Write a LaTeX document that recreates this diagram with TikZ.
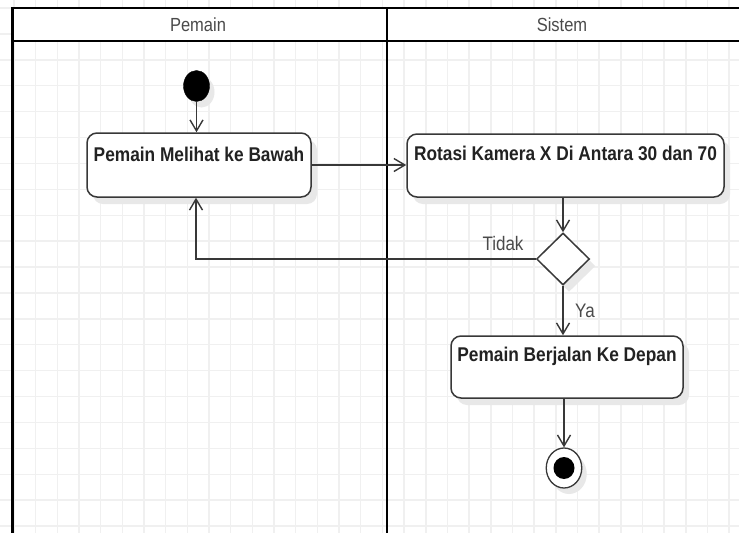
\documentclass[tikz,border=0pt]{standalone}
\usepackage{fontspec}
\setmainfont{Liberation Sans}
\usetikzlibrary{arrows.meta,shapes.geometric,shadows}
\definecolor{gridc}{HTML}{F0F0F0}
\definecolor{linec}{HTML}{383838}
\definecolor{txtc}{HTML}{222222}
\definecolor{lblc}{HTML}{4A4A4A}
\newcommand{\vstr}[1]{\scalebox{1}[1.15]{#1}}
\begin{document}
\begin{tikzpicture}[x=1pt,y=-1pt,
  shade1/.style={drop shadow={shadow xshift=6pt,shadow yshift=-7pt,fill=black!9,opacity=1}},
  actbox/.style={draw=linec,line width=1.5pt,rounded corners=10pt,fill=white,shade1,inner sep=0pt},
  acttxt/.style={font=\fontsize{17.3}{20}\selectfont\bfseries,text=txtc,inner sep=0pt},
  lanetxt/.style={font=\fontsize{16.5}{19}\selectfont,text=lblc,inner sep=0pt},
  guardtxt/.style={font=\fontsize{17}{20}\selectfont,text=lblc,inner sep=0pt},
  flow/.style={draw=linec,line width=1.4pt,-{Straight Barb[length=11pt,width=13pt,line width=1.4pt]}},
  lane/.style={draw=black,line width=2.4pt},
  decision/.style={diamond,aspect=1,draw=linec,line width=1.5pt,fill=white,shade1,minimum width=53pt,minimum height=52pt,inner sep=0pt},
]
\useasboundingbox (0,0) rectangle (739,533);
\fill[white] (0,0) rectangle (739,533);
% grid
\foreach \i in {0,...,34} {
  \draw[gridc,line width=1.4pt] ({-7.6+21.67*\i},0) -- ({-7.6+21.67*\i},533);
}
\foreach \j in {0,...,20} {
  \draw[gridc,line width=1.4pt] (0,{8+25.9*\j}) -- (739,{8+25.9*\j});
}
% swimlane header
\fill[white] (12.3,8) rectangle (739,41);
\draw[lane] (739,8) -- (12.3,8) -- (12.3,533);
\draw[lane] (12.3,41) -- (739,41);
\draw[lane] (386.7,8) -- (386.7,533);
\node[lanetxt] (lane1) at (198,25) {\vstr{Pemain}};
\node[lanetxt] (lane2) at (562,25) {\vstr{Sistem}};

% nodes
\node[ellipse,fill=black,draw=black,minimum width=26pt,minimum height=31pt,inner sep=0pt,
      drop shadow={shadow xshift=5pt,shadow yshift=-6pt,fill=black!9,opacity=1}] (init) at (196.5,86) {};
\node[actbox,minimum width=224pt,minimum height=64pt] (b1) at (199,165) {};
\node[acttxt] (b1t) at (199,154) {\vstr{Pemain Melihat ke Bawah}};
\node[actbox,minimum width=317pt,minimum height=63pt] (b2) at (565.5,165.5) {};
\node[acttxt] (b2t) at (565.5,153.5) {\vstr{Rotasi Kamera X Di Antara 30 dan 70}};
\node[decision] (dec) at (563,259) {};
\node[actbox,minimum width=232pt,minimum height=62pt] (b3) at (567,367) {};
\node[acttxt] (b3t) at (567,356) {\vstr{Pemain Berjalan Ke Depan}};
\node[ellipse,draw=linec,line width=1.3pt,fill=white,minimum width=35.5pt,minimum height=40pt,inner sep=0pt,
      drop shadow={shadow xshift=5pt,shadow yshift=-6pt,fill=black!9,opacity=1}] (final) at (564,468) {};
\node[ellipse,fill=black,minimum width=21pt,minimum height=22pt,inner sep=0pt] (finalin) at (final.center) {};

% guards
\node[guardtxt] (tidak) at (503,244) {\vstr{Tidak}};
\node[guardtxt] (ya) at (585,311) {\vstr{Ya}};

% connectors
\draw[flow] (init.south) -- (init.south |- b1.north);
\draw[flow] (b1.east) -- (b1.east -| b2.west);
\draw[flow] (dec.north |- b2.south) -- (dec.north);
\draw[flow] (dec.west) -| ([xshift=-3pt]b1.south);
\draw[flow] (dec.south) -- (dec.south |- b3.north);
\draw[flow] (final.north |- b3.south) -- (final.north);
\end{tikzpicture}
\end{document}
